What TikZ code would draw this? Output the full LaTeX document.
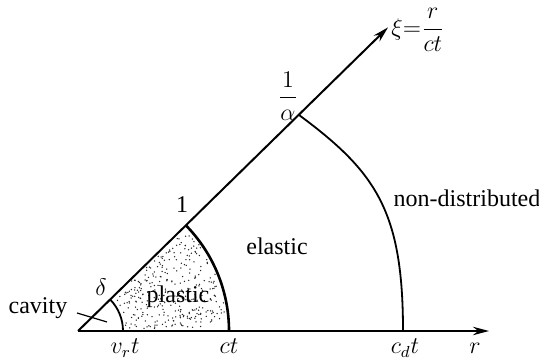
\documentclass[tikz,border=0pt]{standalone}
\usepackage{amsmath}
\usepackage{fontspec}
\setmainfont{Liberation Serif}
\usetikzlibrary{arrows.meta,calc}

\begin{document}
\begin{tikzpicture}[
    x=0.5pt, y=0.5pt,
    axis/.style={line width=1pt, -{Stealth[length=8pt, width=4.2pt]}},
    front/.style={line width=0.9pt},
    plasticfront/.style={line width=1.3pt},
    lbl/.style={font=\fontsize{12}{14}\selectfont, inner sep=1pt},
    dot/.style={fill=black!85}
]
\useasboundingbox (0,0) rectangle (539,362);

% ===== Points =====
\coordinate (O)     at (78,31);
\coordinate (rEnd)  at (489,31);
\coordinate (xiEnd) at ($(O)+(44.4:434)$);
\coordinate (vrt)   at (123,31);
\coordinate (ct)    at (229,31);
\coordinate (cdt)   at (403,31);
\coordinate (onePt) at ($(O)+(44.4:151)$);
\coordinate (alphaPt) at ($(O)+(44.4:309)$);

% ===== Stippled plastic zone =====
\pgfmathsetseed{7}
\foreach \k in {1,...,330}{
    \pgfmathsetmacro{\rad}{10*sqrt(23.0+rnd*(222.0-23.0))}
    \pgfmathsetmacro{\ang}{1.5+rnd*41.5}
    \fill[dot] (O) ++(\ang:\rad) circle[radius=0.75];
}

% ===== Axes =====
\draw[axis] (O) -- (rEnd);
\draw[axis] (O) -- (xiEnd);

% ===== Fronts =====
\draw[front] (vrt) arc[start angle=0, end angle=44.4, radius=45];
\draw[plasticfront] (ct) arc[start angle=0, end angle=44.4, radius=151];
\draw[front] (alphaPt) .. controls (376,190) and (403,151) .. (cdt);

% ===== Cavity pointer =====
\coordinate (cavA) at (77,49);
\coordinate (cavB) at (107,40);
\draw[line width=0.6pt] (cavA) -- (cavB);

% ===== Labels =====
\node[lbl] (cavity) at (38,54)  {cavity};
\node[lbl] (delta)  at (101,75) {$\delta$};
\node[lbl] (plastic) at (178,65) {plastic};
\node[lbl] (elastic) at (277,116) {elastic};
\node[lbl] (nondist) at (467,164) {non-distributed};
\node[lbl] (one)    at (182,157) {1};
\node[lbl] (alpha)  at (288,266) {$\dfrac{1}{\alpha}$};
\node[lbl, anchor=west] (xi) at (389,332) {$\xi{=}\dfrac{r}{ct}$};

\node[lbl, anchor=base] (vrtl) at (125,8) {$v_r t$};
\node[lbl, anchor=base] (ctl)  at (229,8) {$ct$};
\node[lbl, anchor=base] (cdtl) at (405,8) {$c_d t$};
\node[lbl, anchor=base] (rl)   at (475,8) {$r$};

\end{tikzpicture}
\end{document}
